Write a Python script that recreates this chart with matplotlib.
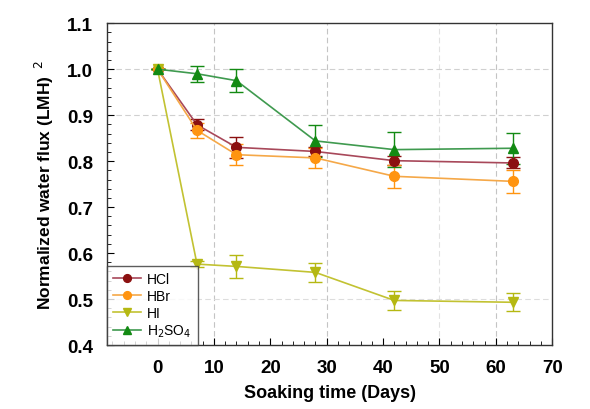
import matplotlib
matplotlib.use("Agg")
import matplotlib.pyplot as plt
from matplotlib.ticker import MultipleLocator

plt.rcParams['font.family'] = ['Liberation Sans', 'DejaVu Sans']

days = [0, 7, 14, 28, 42, 63]

hcl = [1.0, 0.879, 0.830, 0.821, 0.801, 0.796]
hcl_err = [0.0, 0.012, 0.023, 0.010, 0.010, 0.012]

hbr = [1.0, 0.867, 0.814, 0.807, 0.767, 0.756]
hbr_err = [0.0, 0.017, 0.023, 0.021, 0.025, 0.025]

hi = [1.0, 0.576, 0.571, 0.558, 0.497, 0.493]
hi_err = [0.0, 0.006, 0.025, 0.021, 0.021, 0.020]

h2so4 = [1.0, 0.990, 0.975, 0.844, 0.825, 0.828]
h2so4_err = [0.0, 0.017, 0.025, 0.034, 0.038, 0.034]

series = [
    ("HCl", hcl, hcl_err, "o", "#8b1010", "#a8485a"),
    ("HBr", hbr, hbr_err, "o", "#ff9410", "#f5a848"),
    ("HI", hi, hi_err, "v", "#b5b812", "#c2c232"),
    ("H$_2$SO$_4$", h2so4, h2so4_err, "^", "#138a13", "#3f9a4f"),
]

fig = plt.figure(figsize=(5.9, 4.1), dpi=100)
ax = fig.add_axes([0.181, 0.156, 0.755, 0.785])

# light dashed reference grid
for gx in (10, 30, 60):
    ax.axvline(gx, color="#c4c4c4", ls=(0, (5, 3)), lw=0.8, zorder=0)
ax.axvline(50, color="#e2e2e2", ls=(0, (5, 3)), lw=0.8, zorder=0)
for gy in (0.9, 1.0):
    ax.axhline(gy, color="#d0d0d0", ls=(0, (5, 3)), lw=0.8, zorder=0)
ax.axhline(0.5, color="#dddddd", ls=(0, (5, 3)), lw=0.8, zorder=0)

for name, vals, errs, mk, mcol, lcol in series:
    ax.errorbar(days, vals, yerr=errs, fmt="none", ecolor=mcol, elinewidth=1.0,
                capsize=5, capthick=1.0, zorder=2)
    ax.plot(days, vals, color=lcol, lw=1.2, marker=mk, markersize=7,
            markerfacecolor=mcol, markeredgecolor=mcol, label=name, zorder=3)

ax.set_xlim(-9, 70)
ax.set_ylim(0.4, 1.1)
ax.xaxis.set_major_locator(MultipleLocator(10))
ax.xaxis.set_minor_locator(MultipleLocator(2))
ax.yaxis.set_major_locator(MultipleLocator(0.1))
ax.yaxis.set_minor_locator(MultipleLocator(0.02))
ax.tick_params(which="both", direction="in", top=False, right=False)
ax.tick_params(which="major", length=5, labelsize=13.5, pad=10)
ax.tick_params(which="minor", length=3)
for lbl in ax.get_xticklabels() + ax.get_yticklabels():
    lbl.set_fontweight("bold")
ax.yaxis.set_major_formatter(matplotlib.ticker.FormatStrFormatter("%.1f"))

for sp in ax.spines.values():
    sp.set_color("#333333")
    sp.set_linewidth(1.0)

ax.set_xlabel("Soaking time (Days)", fontsize=13, fontweight="bold", labelpad=6)
ax.set_ylabel("Normalized water flux (LMH)$^{\\ \\ 2}$", fontsize=12.5,
              fontweight="bold", labelpad=8)

leg = ax.legend(loc="lower left", fontsize=10, frameon=True, fancybox=False,
                borderaxespad=0.0, handlelength=2.0, labelspacing=0.2,
                borderpad=0.45, handletextpad=0.45, markerscale=0.8)
leg.get_frame().set_edgecolor("#333333")
leg.get_frame().set_linewidth(1.0)

fig.savefig("out.png", dpi=100)
